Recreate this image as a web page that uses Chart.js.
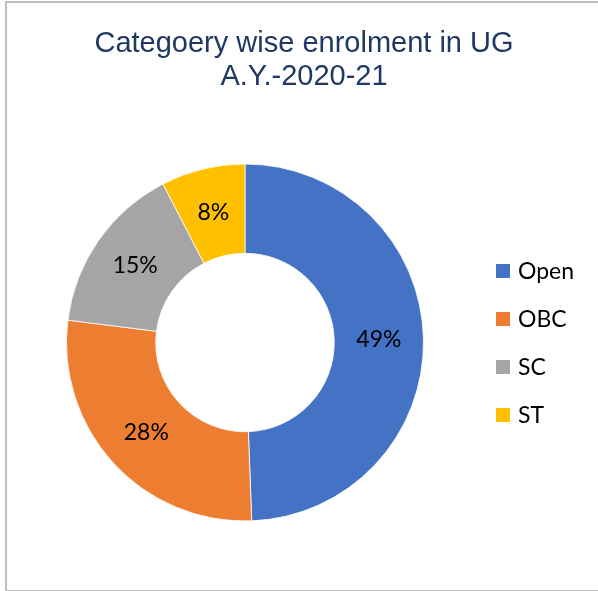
<!DOCTYPE html>
<html>
<head>
<meta charset="utf-8">
<script src="https://cdn.jsdelivr.net/npm/chart.js@4/dist/chart.umd.min.js"></script>
<style>
  html, body { margin: 0; padding: 0; background: #fff; }
  #wrap { position: relative; width: 598px; height: 591px; overflow: hidden; }
  #frame { position: absolute; left: 5px; top: 1px; width: 620px; height: 587px; border: 2px solid #BFBFBF; box-sizing: content-box; pointer-events: none; }
  canvas { position: absolute; left: 0; top: 0; }
</style>
</head>
<body>
<div id="wrap">
  <canvas id="c" width="598" height="591"></canvas>
  <div id="frame"></div>
</div>
<script>
// ---- data ----
const titleLines = ["Categoery wise enrolment in UG", "A.Y.-2020-21"];
const categories = ["Open", "OBC", "SC", "ST"];
const enrolmentShare = [49.4, 27.6, 15.4, 7.6];

// ---- style ----
const sliceColors = ["#4472C4", "#ED7D31", "#A5A5A5", "#FFC000"];

const overlay = {
  id: 'overlay',
  afterDraw(chart) {
    const ctx = chart.ctx;
    const ds = chart.data.datasets[0];
    const total = ds.data.reduce((a, b) => a + b, 0);
    ctx.save();
    // title
    ctx.fillStyle = '#1F3864';
    ctx.font = '29px "Liberation Sans", Arial, sans-serif';
    ctx.textAlign = 'center';
    ctx.textBaseline = 'alphabetic';
    titleLines.forEach((t, i) => ctx.fillText(t, 304, 52 + i * 32.5));
    // slice labels
    const meta = chart.getDatasetMeta(0);
    ctx.fillStyle = '#000';
    ctx.font = '23px Lato, "Open Sans", sans-serif';
    ctx.textAlign = 'center';
    ctx.textBaseline = 'middle';
    meta.data.forEach((arc, i) => {
      const p = arc.getCenterPoint();
      ctx.fillText(Math.round(ds.data[i] / total * 100) + '%', p.x, p.y);
    });
    // legend
    ctx.textAlign = 'left';
    chart.data.labels.forEach((lab, i) => {
      const cy = 271 + i * 48;
      ctx.fillStyle = ds.backgroundColor[i];
      ctx.fillRect(496, cy - 7, 14, 14);
      ctx.fillStyle = '#000';
      ctx.fillText(lab, 518, cy + 1);
    });
    ctx.restore();
  }
};

new Chart(document.getElementById('c'), {
  type: 'doughnut',
  data: {
    labels: categories,
    datasets: [{
      data: enrolmentShare,
      backgroundColor: sliceColors,
      borderColor: '#ffffff',
      borderWidth: 0.8
    }]
  },
  options: {
    responsive: false,
    animation: false,
    radius: 178.5,
    cutout: '50%',
    layout: { padding: { left: 50, right: 158, top: 150, bottom: 56 } },
    plugins: {
      legend: { display: false },
      title: { display: false },
      tooltip: { enabled: false }
    }
  },
  plugins: [overlay]
});
</script>
</body>
</html>
